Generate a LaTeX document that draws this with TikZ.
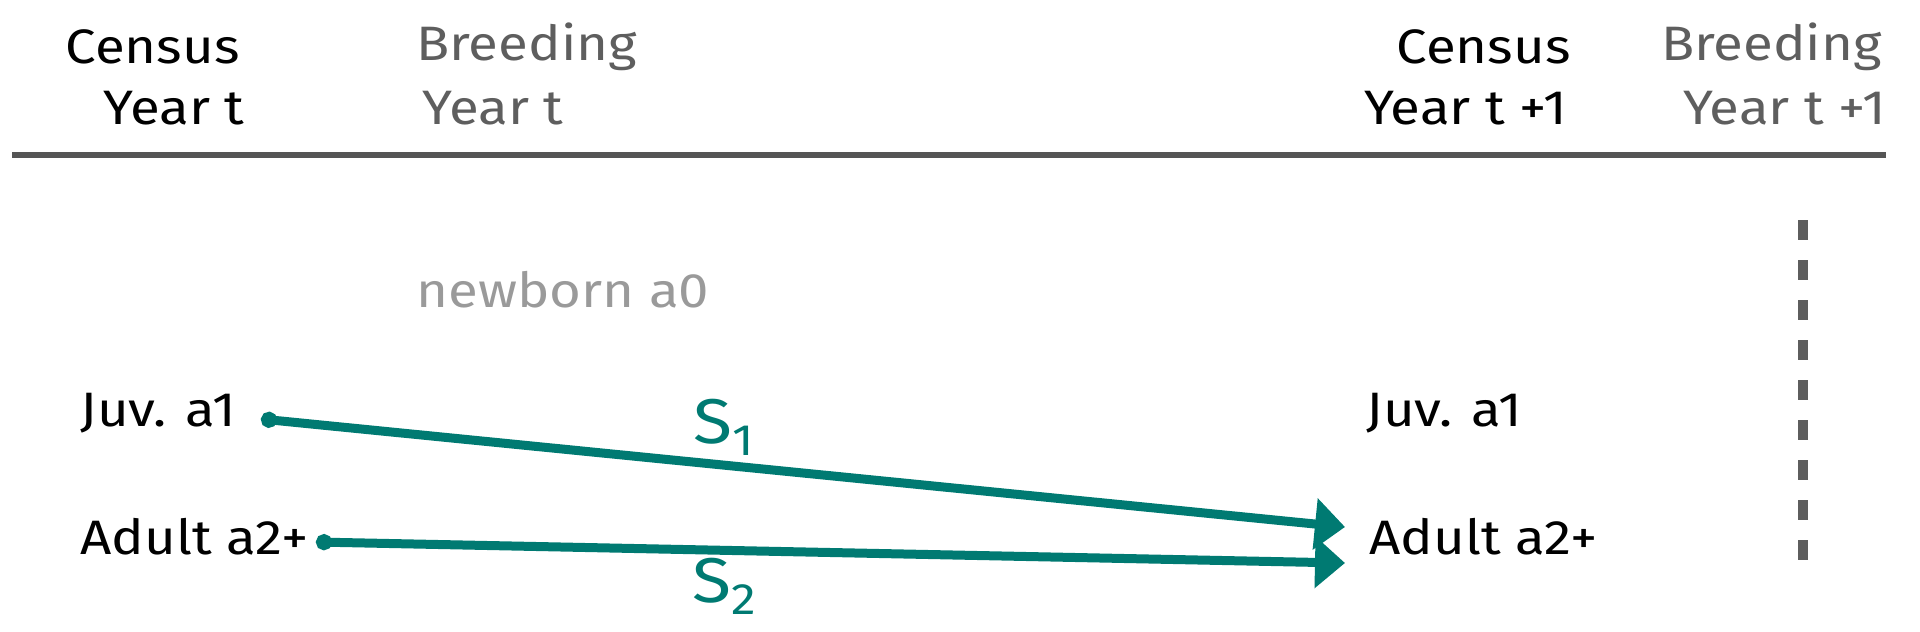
\documentclass[tikz,border=0pt]{standalone}
\usepackage{fontspec}
\setmainfont{Fira Sans}[FakeStretch=1.13]
\usetikzlibrary{arrows.meta}
\definecolor{tealc}{HTML}{007A72}
\definecolor{gdark}{HTML}{5E5E5E}
\definecolor{glight}{HTML}{9A9A9A}
\definecolor{rulec}{HTML}{555555}
\begin{document}
\begin{tikzpicture}[x=0.02cm,y=-0.02cm,
  lab/.style={inner sep=0pt, font=\fontsize{27.5}{32}\selectfont, text=black},
  gray lab/.style={lab, text=gdark},
  new lab/.style={lab, text=glight},
  surv/.style={draw=tealc, line width=9*0.02cm, line cap=round,
    {Circle[length=16*0.02cm]}-{Triangle[length=30*0.02cm,width=50*0.02cm]}},
  slab/.style={inner sep=0pt, text=tealc, font=\fontsize{36}{40}\selectfont},
  timeline/.style={draw=rulec, line width=6*0.02cm},
  breakline/.style={draw=gdark, line width=10*0.02cm, dash pattern=on 20*0.02cm off 20*0.02cm}]
\useasboundingbox (0,0) rectangle (1920,632);
% headers
\node[lab, anchor=east] (censusA) at (240,47) {Census};
\node[lab, anchor=east] (yearA) at (245,108) {Year t};
\node[gray lab, anchor=west] (breedA) at (416,47) {Breeding};
\node[gray lab, anchor=west] (byearA) at (422,108) {Year t};
\node[lab, anchor=east] (censusB) at (1571,47) {Census};
\node[lab, anchor=east] (yearB) at (1567,108) {Year t +1};
\node[gray lab, anchor=east] (breedB) at (1882,47) {Breeding};
\node[gray lab, anchor=east] (byearB) at (1886,108) {Year t +1};
% rule
\coordinate (ruleL) at (12,155);
\coordinate (ruleR) at (1886,155);
\draw[timeline] (ruleL) -- (ruleR);
% stages
\node[new lab, anchor=west] (newborn) at (416,290) {newborn a0};
\node[lab, anchor=west] (juvA) at (80,413) {Juv. a1};
\node[lab, anchor=west] (adultA) at (80,537) {Adult a2+};
\node[lab, anchor=west] (juvB) at (1366,413) {Juv. a1};
\node[lab, anchor=west] (adultB) at (1369,537) {Adult a2+};
% arrows
\coordinate (s1start) at (261,419);
\coordinate (s1end) at (1345,527);
\coordinate (s2start) at (316,542);
\coordinate (s2end) at (1345,563);
\draw[surv] (s1start) -- (s1end);
\draw[surv] (s2start) -- (s2end);
\node[slab] (S1) at (724,427) {S\raisebox{-0.35ex}{\fontsize{25}{28}\selectfont 1}};
\node[slab] (S2) at (724,586) {S\raisebox{-0.35ex}{\fontsize{25}{28}\selectfont 2}};
% breeding boundary
\coordinate (bTop) at (1803,220);
\coordinate (bBot) at (1803,561);
\draw[breakline] (bTop) -- (bBot);
\end{tikzpicture}
\end{document}
